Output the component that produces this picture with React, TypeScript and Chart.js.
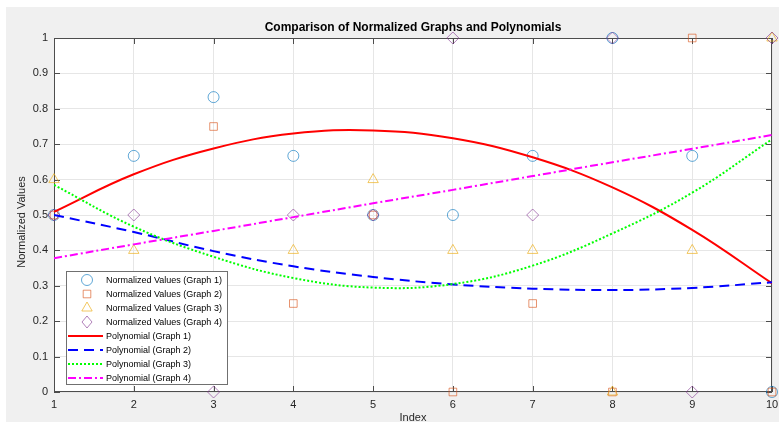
import { useEffect, useRef } from "react";
import { Chart, registerables } from "chart.js";

Chart.register(...registerables);

// Sample index along the x axis
const indices = [1, 2, 3, 4, 5, 6, 7, 8, 9, 10];

// Normalized measurements per graph (null = no sample shown)
const graph1 = [0.5, 0.667, 0.833, 0.667, 0.5, 0.5, 0.667, 1, 0.667, 0];
const graph2 = [0.5, null, 0.75, 0.25, 0.5, 0, 0.25, 0, 1, 0];
const graph3 = [0.6, 0.4, null, 0.4, 0.6, 0.4, 0.4, 0, 0.4, 1];
const graph4 = [0.5, 0.5, 0, 0.5, 0.5, 1, 0.5, 1, 0, 1];

// Fitted polynomial curves evaluated at each index
const poly1 = [0.509, 0.615, 0.688, 0.73, 0.739, 0.717, 0.663, 0.578, 0.458, 0.307];
const poly2 = [0.5, 0.452, 0.398, 0.355, 0.325, 0.304, 0.292, 0.288, 0.294, 0.31];
const poly3 = [0.585, 0.467, 0.382, 0.322, 0.295, 0.305, 0.357, 0.448, 0.563, 0.714];
const poly4 = [0.378, 0.417, 0.455, 0.494, 0.533, 0.571, 0.61, 0.649, 0.687, 0.726];

const yTicks = [0, 0.1, 0.2, 0.3, 0.4, 0.5, 0.6, 0.7, 0.8, 0.9, 1];

const TITLE = "Comparison of Normalized Graphs and Polynomials";
const Y_TITLE = "Normalized Values";
const FONT = '"Liberation Sans", Arial, Helvetica, sans-serif';

const C_CIRCLE = "rgba(0,114,189,0.62)";
const C_SQUARE = "rgba(217,83,25,0.62)";
const C_TRI = "rgba(237,177,32,0.7)";
const C_DIAMOND = "rgba(126,47,142,0.6)";

const toPoints = (ys: (number | null)[]) =>
  indices.map((x, i) => ({ x, y: ys[i] }));

type LegendItem = {
  label: string;
  kind: "marker" | "line";
  style?: string;
  color: string;
  dash?: number[];
};

const legendItems: LegendItem[] = [
  { label: "Normalized Values (Graph 1)", kind: "marker", style: "circle", color: C_CIRCLE },
  { label: "Normalized Values (Graph 2)", kind: "marker", style: "rect", color: C_SQUARE },
  { label: "Normalized Values (Graph 3)", kind: "marker", style: "triangle", color: C_TRI },
  { label: "Normalized Values (Graph 4)", kind: "marker", style: "rectRot", color: C_DIAMOND },
  { label: "Polynomial (Graph 1)", kind: "line", color: "#ff0000", dash: [] },
  { label: "Polynomial (Graph 2)", kind: "line", color: "#0000ff", dash: [10, 6] },
  { label: "Polynomial (Graph 3)", kind: "line", color: "#00ff00", dash: [2, 2] },
  { label: "Polynomial (Graph 4)", kind: "line", color: "#ff00ff", dash: [8, 3, 2, 3] },
];

function drawMarker(ctx: CanvasRenderingContext2D, style: string, x: number, y: number, color: string) {
  ctx.save();
  ctx.strokeStyle = color;
  ctx.lineWidth = 1;
  ctx.beginPath();
  if (style === "circle") {
    ctx.arc(x, y, 5.5, 0, Math.PI * 2);
  } else if (style === "rect") {
    ctx.rect(x - 3.8, y - 3.8, 7.6, 7.6);
  } else if (style === "triangle") {
    ctx.moveTo(x, y - 6);
    ctx.lineTo(x + 5.2, y + 3);
    ctx.lineTo(x - 5.2, y + 3);
    ctx.closePath();
  } else {
    ctx.moveTo(x, y - 6);
    ctx.lineTo(x + 5, y);
    ctx.lineTo(x, y + 6);
    ctx.lineTo(x - 5, y);
    ctx.closePath();
  }
  ctx.stroke();
  ctx.restore();
}

const framePlugin = {
  id: "frame",
  beforeDraw(chart: any) {
    const { ctx, chartArea: a, width, height } = chart;
    ctx.save();
    ctx.fillStyle = "#ffffff";
    ctx.fillRect(0, 0, width, height);
    ctx.fillStyle = "#f0f0f0";
    ctx.fillRect(6, 7, width - 6, height - 10);
    ctx.fillStyle = "#ffffff";
    ctx.fillRect(a.left, a.top, a.right - a.left, a.bottom - a.top);
    ctx.restore();
  },
  beforeDatasetsDraw(chart: any) {
    const { ctx, chartArea: a, scales } = chart;
    ctx.save();
    ctx.strokeStyle = "#4d4d4d";
    ctx.lineWidth = 1;
    ctx.strokeRect(a.left + 0.5, a.top + 0.5, a.right - a.left - 1, a.bottom - a.top - 1);
    const tl = 6;
    ctx.beginPath();
    for (const v of indices) {
      const px = Math.round(scales.x.getPixelForValue(v)) + 0.5;
      ctx.moveTo(px, a.bottom);
      ctx.lineTo(px, a.bottom - tl);
      ctx.moveTo(px, a.top);
      ctx.lineTo(px, a.top + tl);
    }
    for (const v of yTicks) {
      const py = Math.round(scales.y.getPixelForValue(v)) + 0.5;
      ctx.moveTo(a.left, py);
      ctx.lineTo(a.left + tl, py);
      ctx.moveTo(a.right, py);
      ctx.lineTo(a.right - tl, py);
    }
    ctx.stroke();
    ctx.restore();
  },
  afterDraw(chart: any) {
    const { ctx, chartArea: a } = chart;
    ctx.save();
    // title
    ctx.fillStyle = "#000000";
    ctx.font = `bold 12px ${FONT}`;
    ctx.textAlign = "center";
    ctx.textBaseline = "middle";
    ctx.fillText(TITLE, (a.left + a.right) / 2, 28);

    // y axis title
    ctx.save();
    ctx.translate(22, 222);
    ctx.rotate(-Math.PI / 2);
    ctx.fillStyle = "#262626";
    ctx.font = `11px ${FONT}`;
    ctx.fillText(Y_TITLE, 0, 0);
    ctx.restore();

    // legend box
    const bx = 66.5, by = 271.5, bw = 161, bh = 113;
    ctx.fillStyle = "#ffffff";
    ctx.fillRect(bx, by, bw, bh);
    ctx.strokeStyle = "#707070";
    ctx.lineWidth = 1;
    ctx.strokeRect(bx, by, bw, bh);

    ctx.font = `9px ${FONT}`;
    ctx.textAlign = "left";
    legendItems.forEach((it, i) => {
      const y = 280 + i * 14;
      if (it.kind === "marker") {
        drawMarker(ctx, it.style!, 87, y, it.color);
      } else {
        ctx.save();
        ctx.strokeStyle = it.color;
        ctx.lineWidth = 2;
        ctx.setLineDash(it.dash || []);
        ctx.beginPath();
        ctx.moveTo(68, y);
        ctx.lineTo(103, y);
        ctx.stroke();
        ctx.restore();
      }
      ctx.fillStyle = "#000000";
      ctx.fillText(it.label, 106, y + 0.5);
    });
    ctx.restore();
  },
};

export default function App() {
  const ref = useRef<HTMLCanvasElement>(null);

  useEffect(() => {
    const canvas = ref.current;
    if (!canvas) return;
    const markerBase = {
      showLine: false,
      clip: false as any,
      pointBorderWidth: 1,
      pointBackgroundColor: "rgba(0,0,0,0)",
    };
    const lineBase = {
      showLine: true,
      pointRadius: 0,
      borderWidth: 2,
      tension: 0.4,
      fill: false,
    };
    const chart = new Chart(canvas, {
      type: "scatter",
      data: {
        datasets: [
          { ...lineBase, label: "Polynomial (Graph 4)", data: toPoints(poly4), borderColor: "#ff00ff", borderDash: [8, 3, 2, 3] },
          { ...lineBase, label: "Polynomial (Graph 3)", data: toPoints(poly3), borderColor: "#00ff00", borderDash: [2, 2] },
          { ...lineBase, label: "Polynomial (Graph 2)", data: toPoints(poly2), borderColor: "#0000ff", borderDash: [10, 6] },
          { ...lineBase, label: "Polynomial (Graph 1)", data: toPoints(poly1), borderColor: "#ff0000" },
          { ...markerBase, label: "Normalized Values (Graph 4)", data: toPoints(graph4), pointStyle: "rectRot", pointRadius: 6, pointBorderColor: C_DIAMOND },
          { ...markerBase, label: "Normalized Values (Graph 3)", data: toPoints(graph3), pointStyle: "triangle", pointRadius: 6, pointBorderColor: C_TRI },
          { ...markerBase, label: "Normalized Values (Graph 2)", data: toPoints(graph2), pointStyle: "rect", pointRadius: 5.4, pointBorderColor: C_SQUARE },
          { ...markerBase, label: "Normalized Values (Graph 1)", data: toPoints(graph1), pointStyle: "circle", pointRadius: 5.5, pointBorderColor: C_CIRCLE },
        ] as any,
      },
      options: {
        animation: false,
        responsive: false,
        devicePixelRatio: 1,
        font: { family: FONT } as any,
        layout: { padding: { top: 38, right: 5, bottom: 0, left: 0 } },
        plugins: {
          legend: { display: false },
          tooltip: { enabled: false },
          title: { display: false },
        },
        scales: {
          x: {
            type: "linear",
            min: 1,
            max: 10,
            afterFit(s: any) {
              s.height = 33;
              s.paddingLeft = 0;
              s.paddingRight = 0;
            },
            afterBuildTicks(s: any) {
              s.ticks = indices.map((v) => ({ value: v }));
            },
            ticks: {
              padding: 6,
              color: "#262626",
              font: { size: 11, family: FONT },
              maxRotation: 0,
              autoSkip: false,
              callback: (v: any) => String(v),
            },
            grid: { color: "#e6e6e6", drawTicks: false },
            border: { display: false },
            title: {
              display: true,
              text: "Index",
              color: "#262626",
              font: { size: 11, family: FONT },
              padding: { top: -1.5, bottom: 0 },
            },
          },
          y: {
            type: "linear",
            min: 0,
            max: 1,
            afterFit(s: any) {
              s.width = 54;
              s.paddingTop = 0;
              s.paddingBottom = 0;
            },
            afterBuildTicks(s: any) {
              s.ticks = yTicks.map((v) => ({ value: v }));
            },
            ticks: {
              padding: 6,
              color: "#262626",
              font: { size: 11, family: FONT },
              callback: (v: any) => String(Math.round(Number(v) * 10) / 10),
            },
            grid: { color: "#e6e6e6", drawTicks: false },
            border: { display: false },
            title: { display: false },
          },
        },
      } as any,
      plugins: [framePlugin],
    });
    return () => chart.destroy();
  }, []);

  return (
    <div style={{ position: "fixed", left: 0, top: 0, width: 779, height: 425 }}>
      <canvas ref={ref} width={779} height={425} style={{ display: "block" }} />
    </div>
  );
}
